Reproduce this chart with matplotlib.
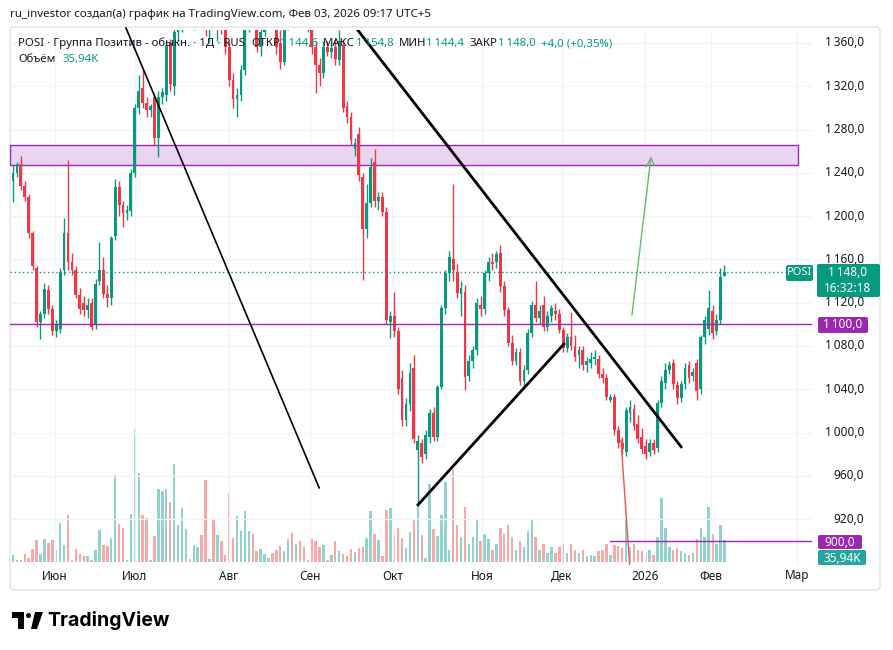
import numpy as np
import matplotlib
matplotlib.use('Agg')
import matplotlib.pyplot as plt
from matplotlib.patches import FancyBboxPatch, Rectangle
from matplotlib.transforms import IdentityTransform

# ---- data (daily candles, index = trading day) ----
opens = [1232, 1240, 1248, 1228, 1218, 1184, 1152, 1102, 1110, 1132,
         1114, 1094, 1096, 1150, 1184, 1158, 1150, 1127, 1120, 1113,
         1120, 1100, 1140, 1150, 1128, 1124, 1182, 1227, 1210, 1203,
         1205, 1240, 1300, 1318, 1305, 1298, 1310, 1272, 1310, 1312,
         1360, 1320, 1370, 1384, 1392, 1402, 1390, 1398, 1410, 1396,
         1372, 1388, 1380, 1390, 1372, 1356, 1326, 1308, 1312, 1335,
         1378, 1392, 1382, 1356, 1370, 1390, 1400, 1384, 1360, 1342,
         1380, 1392, 1386, 1395, 1390, 1382, 1392, 1356, 1340, 1332,
         1356, 1352, 1356, 1344, 1358, 1302, 1292, 1262, 1276, 1236,
         1188, 1212, 1250, 1214, 1218, 1204, 1102, 1108, 1094, 1050,
         1012, 1026, 1060, 984, 990, 980, 996, 1018, 996, 1042,
         1115, 1147, 1160, 1148, 1128, 1130, 1052, 1066, 1076, 1118,
         1114, 1147, 1158, 1158, 1166, 1135, 1113, 1083, 1066, 1074,
         1048, 1058, 1092, 1118, 1106, 1118, 1098, 1108, 1112, 1110,
         1095, 1078, 1088, 1080, 1072, 1076, 1062, 1064, 1068, 1068,
         1054, 1050, 1030, 1033, 1002, 990, 982, 1018, 1022, 1008,
         996, 988, 982, 990, 986, 1027, 1046, 1058, 1064, 1044,
         1032, 1045, 1062, 1052, 1064, 1040, 1088, 1096, 1112, 1094,
         1104, 1144.6]
highs = [1247, 1250, 1256, 1232, 1220, 1186, 1154, 1112, 1138, 1136,
         1118, 1104, 1152, 1198, 1252, 1166, 1154, 1134, 1126, 1124,
         1124, 1142, 1176, 1162, 1136, 1182, 1234, 1232, 1214, 1210,
         1244, 1304, 1330, 1336, 1310, 1304, 1314, 1316, 1318, 1362,
         1364, 1376, 1390, 1400, 1410, 1415, 1405, 1420, 1418, 1405,
         1392, 1400, 1396, 1400, 1380, 1362, 1332, 1318, 1340, 1385,
         1400, 1404, 1395, 1376, 1398, 1410, 1408, 1390, 1372, 1388,
         1398, 1405, 1400, 1410, 1402, 1398, 1398, 1362, 1346, 1362,
         1362, 1360, 1364, 1372, 1364, 1306, 1296, 1272, 1282, 1240,
         1230, 1254, 1262, 1222, 1222, 1208, 1112, 1130, 1098, 1058,
         1032, 1064, 1072, 998, 994, 1002, 1022, 1024, 1044, 1118,
         1150, 1168, 1230, 1156, 1140, 1136, 1072, 1080, 1124, 1126,
         1150, 1162, 1166, 1168, 1173, 1140, 1116, 1090, 1078, 1078,
         1062, 1096, 1122, 1140, 1118, 1126, 1112, 1118, 1120, 1114,
         1098, 1092, 1111, 1090, 1080, 1080, 1070, 1074, 1076, 1072,
         1060, 1054, 1036, 1036, 1006, 996, 1024, 1030, 1026, 1016,
         1004, 994, 994, 994, 1030, 1052, 1064, 1066, 1068, 1048,
         1048, 1064, 1066, 1060, 1068, 1090, 1108, 1132, 1118, 1110,
         1152, 1154.8]
lows = [1213, 1236, 1224, 1214, 1180, 1150, 1098, 1086, 1106, 1110,
        1090, 1088, 1092, 1146, 1150, 1146, 1124, 1110, 1108, 1106,
        1095, 1096, 1136, 1124, 1116, 1118, 1178, 1200, 1190, 1196,
        1200, 1236, 1294, 1300, 1292, 1292, 1266, 1255, 1304, 1306,
        1316, 1312, 1362, 1370, 1380, 1385, 1372, 1390, 1392, 1366,
        1360, 1376, 1362, 1368, 1350, 1320, 1300, 1292, 1306, 1330,
        1370, 1376, 1352, 1348, 1366, 1380, 1378, 1350, 1336, 1340,
        1372, 1380, 1374, 1385, 1376, 1370, 1350, 1314, 1320, 1328,
        1348, 1346, 1340, 1340, 1296, 1286, 1266, 1256, 1232, 1141,
        1180, 1208, 1208, 1206, 1200, 1100, 1087, 1088, 1036, 1006,
        1006, 1020, 990, 933, 972, 976, 990, 992, 992, 1040,
        1110, 1140, 1140, 1124, 1108, 1039, 1048, 1060, 1072, 1108,
        1110, 1140, 1150, 1152, 1130, 1108, 1080, 1062, 1062, 1044,
        1042, 1054, 1088, 1102, 1100, 1094, 1094, 1102, 1104, 1092,
        1074, 1074, 1076, 1066, 1060, 1058, 1056, 1060, 1062, 1050,
        1046, 1030, 1028, 998, 986, 980, 978, 1010, 1002, 990,
        980, 976, 978, 980, 982, 1024, 1040, 1054, 1040, 1026,
        1028, 1040, 1046, 1048, 1030, 1036, 1082, 1090, 1086, 1090,
        1100, 1144.4]
closes = [1240, 1248, 1228, 1218, 1184, 1154, 1102, 1110, 1133, 1114,
          1094, 1100, 1148, 1184, 1158, 1150, 1127, 1114, 1113, 1118,
          1098, 1137, 1150, 1128, 1124, 1180, 1227, 1210, 1203, 1206,
          1240, 1300, 1316, 1305, 1298, 1302, 1272, 1310, 1315, 1358,
          1322, 1370, 1384, 1392, 1402, 1390, 1398, 1410, 1396, 1372,
          1388, 1380, 1390, 1372, 1356, 1326, 1308, 1312, 1335, 1378,
          1392, 1382, 1356, 1370, 1390, 1400, 1384, 1356, 1342, 1380,
          1392, 1386, 1395, 1390, 1382, 1392, 1356, 1340, 1332, 1356,
          1352, 1355, 1345, 1362, 1300, 1292, 1270, 1268, 1238, 1188,
          1212, 1245, 1214, 1218, 1204, 1104, 1108, 1094, 1040, 1012,
          1026, 1055, 994, 992, 977, 998, 1018, 996, 1042, 1115,
          1147, 1162, 1150, 1129, 1134, 1051, 1066, 1076, 1120, 1114,
          1147, 1158, 1156, 1165, 1135, 1113, 1083, 1066, 1074, 1048,
          1058, 1092, 1118, 1106, 1112, 1098, 1108, 1115, 1110, 1095,
          1078, 1088, 1080, 1070, 1076, 1062, 1066, 1068, 1070, 1054,
          1050, 1033, 1033, 1002, 990, 985, 1021, 1024, 1006, 994,
          985, 980, 990, 984, 1027, 1048, 1058, 1062, 1045, 1032,
          1045, 1060, 1050, 1056, 1038, 1088, 1104, 1115, 1092, 1104,
          1144, 1148.0]
volumes = [11, 3, 3, 13, 7, 21, 36, 13, 37, 31,
           36, 20, 64, 28, 77, 3, 21, 13, 10, 10,
           3, 20, 52, 28, 26, 39, 143, 62, 55, 3,
           78, 217, 145, 77, 72, 3, 42, 119, 116, 119,
           98, 160, 60, 88, 54, 5, 28, 24, 44, 134,
           5, 70, 44, 34, 11, 112, 39, 75, 51, 83,
           51, 46, 18, 21, 13, 7, 15, 20, 26, 18,
           37, 47, 29, 34, 24, 3, 37, 34, 24, 28,
           3, 11, 34, 18, 13, 10, 21, 16, 23, 24,
           39, 83, 46, 36, 10, 85, 88, 44, 55, 39,
           23, 49, 68, 93, 44, 7, 127, 54, 42, 77,
           130, 20, 150, 60, 40, 90, 30, 40, 70, 35,
           45, 38, 20, 30, 55, 45, 60, 40, 20, 35,
           25, 50, 68, 40, 20, 30, 15, 25, 15, 25,
           30, 15, 30, 20, 15, 20, 10, 12, 10, 18,
           20, 30, 12, 28, 26, 22, 70, 25, 30, 20,
           18, 15, 20, 12, 40, 105, 55, 25, 20, 22,
           18, 15, 12, 15, 38, 55, 40, 90, 45, 30,
           60, 35.94]

month_pos = [10.7, 31.0, 55.0, 75.6, 96.7, 119.4, 139.7, 160.8, 177.6, 199.5]
month_labels = ['Июн', 'Июл', 'Авг', 'Сен', 'Окт', 'Ноя', 'Дек', '2026', 'Фев', 'Мар']
price_ticks = [920, 960, 1000, 1040, 1080, 1120, 1160, 1200, 1240, 1280, 1320, 1360]

UP = '#089981'
DOWN = '#f23645'
PURPLE = '#9c27b0'
W, H = 893, 650

plt.rcParams['font.family'] = ['Noto Sans', 'DejaVu Sans']
fig = plt.figure(figsize=(W / 100, H / 100), dpi=100)
fig.patch.set_facecolor('white')


def fx(px):
    return px / W


def fy(py):
    return 1 - py / H


# chart frame
fig.add_artist(FancyBboxPatch((10, H - 590), 870, 563, boxstyle='round,pad=0,rounding_size=4',
                              transform=IdentityTransform(), fc='none', ec='#e0e3eb', lw=1))

ax = fig.add_axes([fx(10), fy(565), fx(812) - fx(10), fy(30) - fy(565)])
ax.set_xlim(-0.76, 203.3)
ax.set_ylim(877.6, 1372)
axv = ax.twinx()
axv.set_ylim(-5, 870)
ax.set_zorder(2)
axv.set_zorder(1)
ax.patch.set_visible(False)
for a in (ax, axv):
    a.set_xticks([])
    a.set_yticks([])
    for s in a.spines.values():
        s.set_visible(False)

x = np.arange(len(closes))
o = np.array(opens, float)
c = np.array(closes, float)
hi = np.array(highs, float)
lo = np.array(lows, float)
up = c >= o
cols = np.where(up, UP, DOWN)
vcols = np.where(up, '#92d2cc', '#f7a9a8')

# grid
for p in price_ticks:
    ax.axhline(p, color='#f0f3fa', lw=1, zorder=0)
for m in month_pos:
    ax.axvline(m, color='#f0f3fa', lw=1, zorder=0)

axv.bar(x, volumes, width=0.62, color=vcols, zorder=1)

ax.vlines(x, lo, hi, colors=cols, lw=1, zorder=3)
body_h = np.maximum(np.abs(c - o), 0.8)
ax.bar(x, body_h, bottom=np.minimum(o, c), width=0.72, color=cols, zorder=4)

# zone 1247-1266
ax.add_patch(Rectangle((-0.76, 1247), 200.4, 19, fc='#ead5f0', ec=PURPLE, lw=1, zorder=1.5))
# horizontal levels
ax.axhline(1100, color=PURPLE, lw=1, zorder=5)
ax.plot([152.0, 203.3], [900, 900], color=PURPLE, lw=1, zorder=5)
ax.axhline(1148, color=UP, lw=1, ls=(0, (1, 2)), zorder=5)

# drawings
ax.plot([28.75, 77.9], [1373.9, 948.9], color='black', lw=1.2, zorder=6, clip_on=False)
ax.plot([87.3, 170.0], [1373.9, 986.8], color='black', lw=2, zorder=6)
ax.plot([103.05, 140.2], [933.2, 1081.9], color='black', lw=2, zorder=6)
ax.plot([154.7, 157.0], [993, 872], color='#ef5350', lw=1, zorder=6)
ax.plot([157.5, 162.3], [1108.7, 1253.8], color='#66bb6a', lw=1, zorder=6)
ax.plot([161.2, 162.3, 163.2], [1246, 1253.8, 1247], color='#66bb6a', lw=1, zorder=6)

# price axis labels
for p in price_ticks:
    s = f'{p:,.1f}'.replace(',', '\u202f').replace('.', ',')
    ax.text((864 - 10) / 802, p, s, transform=ax.get_yaxis_transform(), ha='right', va='center',
            fontsize=8.5, color='#131722', clip_on=False)

# time axis labels
for m, lab in zip(month_pos, month_labels):
    fig.text(fx(13 + 3.93 * m), fy(576), lab, ha='center', va='center', fontsize=8.5,
             color='#131722', fontweight='bold' if lab == '2026' else 'normal')


def tag(x0, y0, x1, y1, color):
    fig.add_artist(FancyBboxPatch((x0, H - y1), x1 - x0, y1 - y0, boxstyle='round,pad=0,rounding_size=2',
                                  transform=IdentityTransform(), fc=color, ec='none', zorder=10))


tag(786, 265, 813, 281, UP)
fig.text(fx(799.5), fy(273), 'POSI', ha='center', va='center', fontsize=8, color='white',
         fontweight='bold', zorder=11)
tag(817, 264, 880, 297, UP)
fig.text(fx(848), fy(272), '1\u202f148,0', ha='center', va='center', fontsize=8.5, color='white',
         fontweight='bold', zorder=11)
fig.text(fx(848), fy(288), '16:32:18', ha='center', va='center', fontsize=8.5, color='white', zorder=11)
tag(818, 317, 868, 333, PURPLE)
fig.text(fx(843), fy(325), '1\u202f100,0', ha='center', va='center', fontsize=8.5, color='white',
         fontweight='bold', zorder=11)
tag(818, 535, 862, 549, PURPLE)
fig.text(fx(840), fy(542), '900,0', ha='center', va='center', fontsize=8.5, color='white',
         fontweight='bold', zorder=11)
tag(818, 550, 866, 565, '#26a69a')
fig.text(fx(842), fy(558), '35,94K', ha='center', va='center', fontsize=8.5, color='white',
         fontweight='bold', zorder=11)

# header texts
fig.text(fx(10), fy(14), 'ru_investor создал(а) график на TradingView.com, Фев 03, 2026 09:17 UTC+5',
         ha='left', va='center', fontsize=8.3, color='#131722')

renderer = fig.canvas.get_renderer()


def seq_text(x0, y0, parts, size):
    # y0 is the baseline in pixels
    xp = x0
    for s, col, gap in parts:
        t = fig.text(fx(xp), fy(y0), s, ha='left', va='baseline', fontsize=size, color=col, zorder=12)
        xp += t.get_window_extent(renderer=renderer).width + gap


BLK = '#131722'
seq_text(18, 46, [('POSI · Группа Позитив - обыкн. · 1Д · RUS', BLK, 6),
                  ('ОТКР', BLK, 0.5), ('1\u202f144,6', UP, 5),
                  ('МАКС', BLK, 0.5), ('1\u202f154,8', UP, 5),
                  ('МИН', BLK, 0.5), ('1\u202f144,4', UP, 5),
                  ('ЗАКР', BLK, 0.5), ('1\u202f148,0', UP, 5),
                  ('+4,0 (+0,35%)', UP, 0)], 8.2)
seq_text(18, 62, [('Объём', BLK, 7), ('35,94K', UP, 0)], 8.2)

# logo
fig.add_artist(Rectangle((12, H - 618), 12, 6, transform=IdentityTransform(), fc='black', ec='none'))
fig.add_artist(Rectangle((18, H - 629), 6, 17, transform=IdentityTransform(), fc='black', ec='none'))
fig.add_artist(FancyBboxPatch((26, H - 618), 5, 5, boxstyle='circle,pad=0', transform=IdentityTransform(),
                              fc='black', ec='none'))
fig.add_artist(plt.Polygon([[35, H - 612], [43, H - 612], [37, H - 629], [31, H - 629]],
                           transform=IdentityTransform(), fc='black', ec='none'))
fig.text(fx(47), fy(620), 'TradingView', ha='left', va='center', fontsize=14, color='black',
         fontweight='bold', family='Inter')

fig.savefig('out.png', dpi=100, facecolor='white')
